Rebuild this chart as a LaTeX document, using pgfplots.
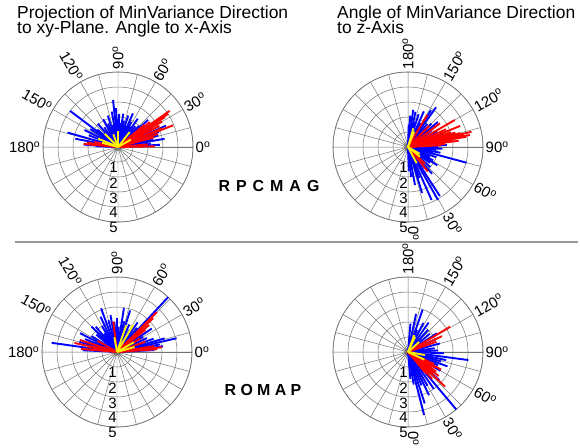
\documentclass[border=0pt]{standalone}
\usepackage{pgfplots}
\pgfplotsset{compat=1.18}
\usepgfplotslibrary{polar}
\usepackage{fontspec}
\setmainfont{Liberation Sans}
\newcommand\dg{\textsuperscript{o}}
\newcommand\lbl{\fontsize{15}{17}\selectfont}
\pgfplotsset{
 rose/.style={scale only axis, width=150bp, height=150bp, anchor=center,
   xmin=0, xmax=360, ymin=0, ymax=5,
   xtick={0,15,30,45,60,75,90,105,120,135,150,165,180,195,210,225,240,255,270,285,300,315,330,345},
   ytick={1,2,3,4,5},
   xticklabels={}, yticklabels={},
   grid=major, major grid style={black!55, line width=0.5bp},
   axis line style={black!55, line width=0.6bp},
   major tick length=0pt, clip=false},
 bar/.style={line width=1.9bp, mark=none, quiver={u=0, v=\thisrow{r}}},
}
\begin{document}
\begin{tikzpicture}
\path[use as bounding box] (0bp,0bp) rectangle (580bp,-448bp);
\node[anchor=base west, inner sep=0, font=\fontsize{17.5}{20}\selectfont] at (17bp,-18.3bp) {Projection of MinVariance Direction};
\node[anchor=base west, inner sep=0, font=\fontsize{17.5}{20}\selectfont] at (17bp,-33.8bp) {to xy-Plane. Angle to x-Axis};
\node[anchor=base west, inner sep=0, font=\fontsize{17.5}{20}\selectfont] at (337bp,-18.3bp) {Angle of MinVariance Direction};
\node[anchor=base west, inner sep=0, font=\fontsize{17.5}{20}\selectfont] at (337bp,-33.8bp) {to z-Axis};
\node[inner sep=0, font=\bfseries\fontsize{16}{16}\selectfont] at (269bp,-186bp) {R\hspace{6bp}P\hspace{6bp}C\hspace{6bp}M\hspace{6bp}A\hspace{6bp}G};
\node[inner sep=0, font=\bfseries\fontsize{16}{16}\selectfont] at (263bp,-390bp) {R\hspace{4.3bp}O\hspace{4.3bp}M\hspace{4.3bp}A\hspace{4.3bp}P};
\draw[black!40, line width=1.5bp] (15bp,-242bp) -- (578bp,-242bp);

% ---------- top left: RPCMAG, angle to x axis ----------
\begin{polaraxis}[rose, at={(118bp,-147bp)}]
\addplot[blue, bar] table[x=a, y expr=0] {
a r
143 4.0
164 3.5
169 2.9
153 2.5
147 2.2
158 2.1
172 1.8
176 2.3
140 1.8
131 2.05
125 1.6
118 2.1
113 1.7
108 2.2
104 1.5
100 2.4
96 3.15
93 2.6
91 1.9
88 2.2
85 1.6
81 2.25
77 1.8
72 2.2
69 1.5
66 2.45
62 1.9
58 1.6
55 2.3
50 1.8
45 2.0
42 2.7
38 2.2
28 2.6
24 3.5
20 2.9
16 2.8
12 2.4
10 3.15
6 2.2
3 2.8
135 1.3
160 1.2
110 1.2
80 1.2
178 1.5
};
\addplot[red, bar] table[x=a, y expr=0] {
a r
35 4.2
33.5 4.0
32.5 3.7
30 3.4
27 3.1
21.5 3.95
23 3.2
18 2.8
15 2.5
38 2.7
40 2.3
1 2.45
5 2.0
172 2.1
175 2.3
168 1.6
};
\addplot[yellow, bar] table[x=a, y expr=0] {
a r
90 1.05
135 1.26
52 1.27
157 1.44
30 1.0
110 0.9
165 1.1
};
\pgfplotsinvokeforeach{0,30,60,90}{\node[rotate=#1, anchor=west, inner sep=2.5bp, font=\lbl] at (axis cs:#1,5) {#1\dg};}
\pgfplotsinvokeforeach{120,150,180}{\node[rotate=#1-180, anchor=east, inner sep=2.5bp, font=\lbl] at (axis cs:#1,5) {#1\dg};}
\pgfplotsinvokeforeach{1,2,3,4,5}{\node[anchor=north east, inner sep=0.5bp, xshift=0.5bp, font=\lbl] at (axis cs:270,#1) {#1};}
\end{polaraxis}

% ---------- top right: RPCMAG, angle to z axis ----------
\begin{polaraxis}[rose, at={(408bp,-147bp)}]
\addplot[blue, bar] table[x expr=\thisrow{a}-90, y expr=0] {
a r
144.8 3.24
172 2.5
168 2.4
176 2.1
162 2.3
156 2.6
152 1.8
140 2.0
135 2.2
130 2.6
125 1.9
118 2.2
110 2.4
93 2.6
90 2.0
87 2.3
84 1.9
80 2.2
77 1.7
75 4.05
70 2.0
66 1.6
62 1.9
58 2.3
54 1.8
48 2.0
42 2.4
38 1.8
33 3.9
29.5 4.06
24 3.87
20 2.2
17 3.2
10.4 2.58
6 2.0
2 1.6
165 1.7
148 2.9
178 1.5
};
\addplot[red, bar] table[x expr=\thisrow{a}-90, y expr=0] {
a r
120 3.6
112 3.75
103.5 4.35
101 4.2
100 3.95
105 3.6
107 3.3
98 3.0
126.5 2.65
149 2.5
115 2.8
109 3.0
95 2.5
93 2.2
39 2.1
45 1.6
135 2.0
102 3.8
97 3.4
};
\addplot[yellow, bar] table[x expr=\thisrow{a}-90, y expr=0] {
a r
164 1.3
158 1.1
28 1.23
51 1.03
60 0.9
};
\node[rotate=-90, anchor=base west, inner sep=1bp, font=\lbl] at (axis cs:-90,5.2) {0\dg};
\node[rotate=-60, anchor=west, inner sep=2.5bp, font=\lbl] at (axis cs:-60,5) {30\dg};
\node[rotate=-30, anchor=west, inner sep=2.5bp, font=\lbl] at (axis cs:-30,5) {60\dg};
\node[rotate=0, anchor=west, inner sep=2.5bp, font=\lbl] at (axis cs:0,5) {90\dg};
\node[rotate=30, anchor=west, inner sep=2.5bp, font=\lbl] at (axis cs:30,5) {120\dg};
\node[rotate=60, anchor=west, inner sep=2.5bp, font=\lbl] at (axis cs:60,5) {150\dg};
\node[rotate=90, anchor=west, inner sep=2.5bp, font=\lbl] at (axis cs:90,5) {180\dg};
\pgfplotsinvokeforeach{1,2,3,4,5}{\node[anchor=north east, inner sep=0.5bp, xshift=0.5bp, font=\lbl] at (axis cs:270,#1) {#1};}
\end{polaraxis}

% ---------- bottom left: ROMAP, angle to x axis ----------
\begin{polaraxis}[rose, at={(117bp,-352bp)}]
\addplot[blue, bar] table[x=a, y expr=0] {
a r
47 5.0
172 4.4
13 4.08
110 3.1
81 2.95
72.5 2.9
153 2.76
34 2.8
165 2.6
158 2.3
148 2.0
140 1.8
130 2.2
120 2.0
115 2.6
105 2.2
100 2.5
95 2.0
90 2.3
86 1.7
77 2.1
66 2.0
60 1.7
55 2.4
50 2.1
40 2.3
30 2.0
25 2.2
20 2.6
16 3.3
10 2.9
7 3.1
3 2.5
177 2.3
125 1.5
135 2.4
};
\addplot[red, bar] table[x=a, y expr=0] {
a r
45 3.77
43 3.3
40 2.8
38 2.4
162 2.6
168 2.9
175 2.4
170 2.0
6 3.0
4 2.7
9 2.5
97 2.05
150 1.5
30 1.8
20 2.0
};
\addplot[yellow, bar] table[x=a, y expr=0] {
a r
59 2.1
71 1.88
16 1.22
30 1.3
100 1.0
};
\pgfplotsinvokeforeach{0,30,60,90}{\node[rotate=#1, anchor=west, inner sep=2.5bp, font=\lbl] at (axis cs:#1,5) {#1\dg};}
\pgfplotsinvokeforeach{120,150,180}{\node[rotate=#1-180, anchor=east, inner sep=2.5bp, font=\lbl] at (axis cs:#1,5) {#1\dg};}
\pgfplotsinvokeforeach{1,2,3,4,5}{\node[anchor=north east, inner sep=0.5bp, xshift=0.5bp, font=\lbl] at (axis cs:270,#1) {#1};}
\end{polaraxis}

% ---------- bottom right: ROMAP, angle to z axis ----------
\begin{polaraxis}[rose, at={(408bp,-352bp)}]
\addplot[blue, bar] table[x expr=\thisrow{a}-90, y expr=0] {
a r
161 2.99
168 2.6
175 1.9
152 2.2
145 2.4
138 2.0
130 1.9
123 2.3
115 2.0
105 2.2
98 1.8
93 2.0
88 2.4
82.4 4.06
78 2.6
74 2.3
70 2.8
66 2.2
60 2.5
54 2.0
48 2.8
40 5.0
35 3.0
30 2.6
26 3.2
22 2.4
18 3.6
14.3 4.33
10 2.2
5 1.8
158 1.6
};
\addplot[red, bar] table[x expr=\thisrow{a}-90, y expr=0] {
a r
121 3.27
47 3.38
55 2.3
52 2.6
50 2.2
45 2.0
60 2.1
57 1.9
42 2.4
40 1.8
62 2.5
65 1.9
110 2.0
115 2.5
};
\addplot[yellow, bar] table[x expr=\thisrow{a}-90, y expr=0] {
a r
155 1.12
80 1.15
132 1.0
65 1.2
160 1.2
};
\node[rotate=-90, anchor=base west, inner sep=1bp, font=\lbl] at (axis cs:-90,5.2) {0\dg};
\node[rotate=-60, anchor=west, inner sep=2.5bp, font=\lbl] at (axis cs:-60,5) {30\dg};
\node[rotate=-30, anchor=west, inner sep=2.5bp, font=\lbl] at (axis cs:-30,5) {60\dg};
\node[rotate=0, anchor=west, inner sep=2.5bp, font=\lbl] at (axis cs:0,5) {90\dg};
\node[rotate=30, anchor=west, inner sep=2.5bp, font=\lbl] at (axis cs:30,5) {120\dg};
\node[rotate=60, anchor=west, inner sep=2.5bp, font=\lbl] at (axis cs:60,5) {150\dg};
\node[rotate=90, anchor=west, inner sep=2.5bp, font=\lbl] at (axis cs:90,5) {180\dg};
\pgfplotsinvokeforeach{1,2,3,4,5}{\node[anchor=north east, inner sep=0.5bp, xshift=0.5bp, font=\lbl] at (axis cs:270,#1) {#1};}
\end{polaraxis}
\end{tikzpicture}
\end{document}
